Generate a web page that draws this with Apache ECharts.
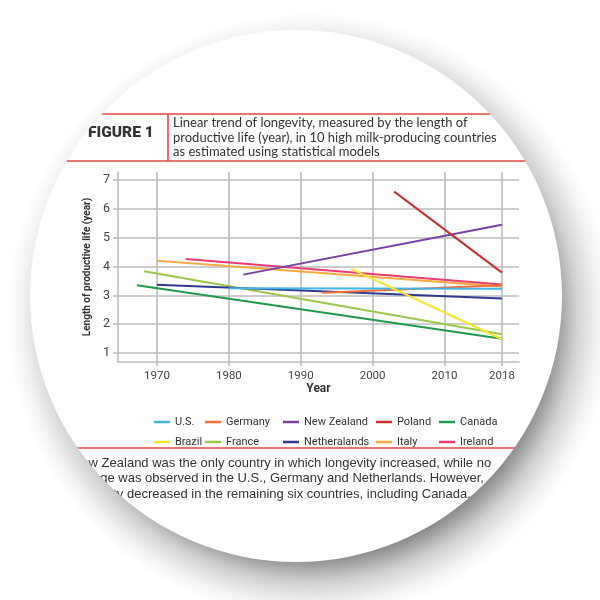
<!DOCTYPE html>
<html><head><meta charset="utf-8">
<script src="https://cdn.jsdelivr.net/npm/echarts@6/dist/echarts.min.js"></script>
<style>html,body{margin:0;padding:0;background:#fff}#c{width:600px;height:600px}</style>
</head><body><div id="c"></div>
<script>
// ---- data ----
const xTicks = [1970, 1980, 1990, 2000, 2010, 2018];
const yTicks = [1, 2, 3, 4, 5, 6, 7];
const usData = [[1980, 3.25], [2018, 3.23]];
const germanyData = [[1993, 3.09], [2018, 3.35]];
const newZealandData = [[1982, 3.72], [2018, 5.45]];
const polandData = [[2003, 6.6], [2018, 3.79]];
const canadaData = [[1967.2, 3.35], [2018, 1.5]];
const brazilData = [[1997, 3.92], [2018, 1.48]];
const franceData = [[1968.2, 3.84], [2018, 1.65]];
const netherlandsData = [[1970, 3.37], [2018, 2.89]];
const italyData = [[1970, 4.2], [2018, 3.31]];
const irelandData = [[1974, 4.26], [2018, 3.38]];
const seriesNames = ['U.S.', 'Germany', 'New Zealand', 'Poland', 'Canada', 'Brazil', 'France', 'Netheralands', 'Italy', 'Ireland'];
const legendColumns = [['U.S.', 'Brazil'], ['Germany', 'France'], ['New Zealand', 'Netheralands'], ['Poland', 'Italy'], ['Canada', 'Ireland']];
const titleLabel = 'FIGURE 1';
const titleLines = ['Linear trend of longevity, measured by the length of', 'productive life (year), in 10 high milk-producing countries', 'as estimated using statistical models'];
const captionLines = ['New Zealand was the only country in which longevity increased, while no', 'change was observed in the U.S., Germany and Netherlands. However,', 'longevity decreased in the remaining six countries, including Canada,'];

// ---- styling ----
const seriesData = [usData, germanyData, newZealandData, polandData, canadaData, brazilData, franceData, netherlandsData, italyData, irelandData];
const colors = ['#3fb6e6', '#f26f3b', '#7840a4', '#c6302f', '#1f9a4c', '#f6e62c', '#9bc74b', '#2f3a8e', '#f9aa3e', '#ec3c74'];
const drawOrder = [4, 6, 7, 8, 9, 2, 1, 0, 5, 3];
const narrow = "Roboto,'Liberation Sans',sans-serif";
const red = '#e2483e';
const gridGray = '#bcbcbc';

const chart = echarts.init(document.getElementById('c'));
const series = drawOrder.map(i => ({
  name: seriesNames[i], type: 'line', data: seriesData[i], symbol: 'none', showSymbol: false,
  lineStyle: { width: 2, color: colors[i] }, itemStyle: { color: colors[i] }, animation: false
}));
const legendLefts = [149, 200, 278, 371, 434];
const legends = legendColumns.map((col, k) => ({
  data: col, orient: 'vertical', left: legendLefts[k], top: 410, itemGap: 6,
  itemWidth: 16, itemHeight: 2.5, icon: 'rect', selectedMode: false,
  textStyle: { fontFamily: narrow, fontSize: 11, color: '#333', lineHeight: 14, padding: [0, 0, 0, 0] }
}));

const graphics = [];
graphics.push({ type: 'line', z: 50, shape: { x1: 0, y1: 114, x2: 600, y2: 114 }, style: { stroke: red, lineWidth: 1.6 } });
graphics.push({ type: 'line', z: 50, shape: { x1: 0, y1: 161, x2: 600, y2: 161 }, style: { stroke: red, lineWidth: 1.6 } });
graphics.push({ type: 'line', z: 50, shape: { x1: 168, y1: 114, x2: 168, y2: 161 }, style: { stroke: red, lineWidth: 1.6 } });
graphics.push({ type: 'line', z: 50, shape: { x1: 0, y1: 448, x2: 600, y2: 448 }, style: { stroke: red, lineWidth: 1.6 } });
graphics.push({ type: 'text', z: 50, x: 88, y: 133, style: { text: titleLabel, font: "900 15.5px 'Roboto', sans-serif", fill: '#333', verticalAlign: 'middle' } });
titleLines.forEach((t, i) => graphics.push({ type: 'text', z: 50, x: 173, y: 123 + i * 14.5, style: { text: t, font: "13px 'Lato', sans-serif", fill: '#333', verticalAlign: 'middle' } }));
captionLines.forEach((t, i) => graphics.push({ type: 'text', z: 50, x: 72, y: 463 + i * 15.5, style: { text: t, font: "13px 'Liberation Sans', sans-serif", fill: '#333', verticalAlign: 'middle' } }));
graphics.push({
  type: 'ring', z: 100, shape: { cx: 296, cy: 296, r0: 266, r: 460 },
  style: {
    fill: { type: 'radial', x: 310, y: 316, r: 320, global: true,
      colorStops: [{ offset: 0, color: '#858585' }, { offset: 0.75, color: '#858585' }, { offset: 0.83, color: '#cfcfcf' }, { offset: 0.9, color: '#f3f3f3' }, { offset: 0.95, color: '#ffffff' }, { offset: 1, color: '#ffffff' }] }
  }
});

chart.setOption({
  animation: false,
  backgroundColor: '#fff',
  grid: { left: 118, right: 81, top: 172, bottom: 238, containLabel: false },
  xAxis: {
    type: 'value', min: 1964.57, max: 2020.37, name: 'Year', nameLocation: 'middle', nameGap: 19,
    nameTextStyle: { fontFamily: narrow, fontSize: 12, fontWeight: 'bold', color: '#333' },
    axisLine: { show: true, lineStyle: { color: gridGray, width: 1.6 } },
    axisTick: { show: true, length: 4, customValues: xTicks, lineStyle: { color: gridGray, width: 1.6 } },
    axisLabel: { customValues: xTicks, margin: 8, fontFamily: narrow, fontSize: 11.5, color: '#444', formatter: v => String(v) },
    splitLine: { show: true, lineStyle: { color: gridGray, width: 1.6 } }
  },
  yAxis: {
    type: 'value', min: 0.69, max: 7.28, name: 'Length of productive life (year)', nameLocation: 'middle', nameGap: 20,
    nameTextStyle: { fontFamily: narrow, fontSize: 10, fontWeight: 'bold', color: '#333' },
    axisLine: { show: true, lineStyle: { color: gridGray, width: 1.6 } },
    axisTick: { show: true, length: 5, customValues: yTicks, lineStyle: { color: gridGray, width: 1.6 } },
    axisLabel: { customValues: yTicks, margin: 8, fontFamily: narrow, fontSize: 12.5, color: '#444' },
    splitLine: { show: true, lineStyle: { color: gridGray, width: 1.6 } }
  },
  legend: legends,
  series: series,
  graphic: { elements: graphics }
});
</script></body></html>
